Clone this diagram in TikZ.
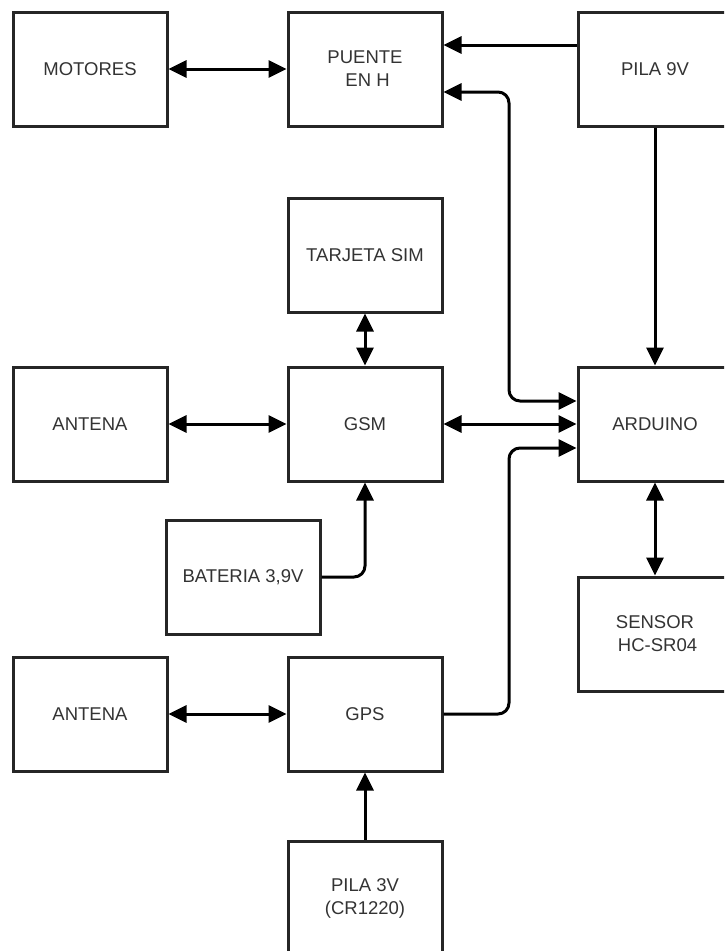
\documentclass[tikz,border=0pt]{standalone}
\usepackage{fontspec}
\setmainfont{Liberation Sans}
\usetikzlibrary{arrows.meta}
\begin{document}
\begin{tikzpicture}[x=1pt,y=-1pt,
  blk/.style={draw=black!85, line width=3pt, fill=white, minimum width=154pt, minimum height=114pt,
     inner sep=0pt, font=\fontsize{18.5}{23}\selectfont, text=black!80, align=center},
  conn/.style={line width=3pt, draw=black, rounded corners=11pt},
  tip/.tip={Triangle[length=18pt,width=17pt]},
  one/.style={conn, -tip},
  two/.style={conn, tip-tip}]
\clip (0,0) rectangle (724,951);
\fill[white] (0,0) rectangle (724,951);
\node[blk] (mot) at (90,69) {MOTORES};
\node[blk] (puente) at (365,69) {PUENTE\\ \ EN H};
\node[blk] (pila9) at (655,69) {PILA 9V};
\node[blk] (sim) at (365,255) {TARJETA SIM};
\node[blk] (ant1) at (90,424) {ANTENA};
\node[blk] (gsm) at (365,424) {GSM};
\node[blk] (ard) at (655,424) {ARDUINO};
\node[blk] (bat) at (243,577) {BATERIA 3,9V};
\node[blk] (sen) at (655,634) {SENSOR\\ \ HC-SR04};
\node[blk] (ant2) at (90,714) {ANTENA};
\node[blk] (gps) at (365,714) {GPS};
\node[blk] (pila3) at (365,898) {PILA 3V\\(CR1220)};
\coordinate (c1) at (509,92);
\coordinate (c2) at (509,401);
\coordinate (c3) at (509,714);
\coordinate (c4) at (509,448);
\coordinate (c5) at (365,577);
\draw[two] (mot.east) -- (puente.west);
\draw[one] ([yshift=24pt]pila9.west) -- ([yshift=24pt]puente.east);
\draw[two] ([yshift=-23pt]puente.east) -- (c1) -- (c2) -- ([yshift=23pt]ard.west);
\draw[two] (gsm.east) -- (ard.west);
\draw[one] (gps.east) -- (c3) -- (c4) -- ([yshift=-24pt]ard.west);
\draw[one] (pila9.south) -- (ard.north);
\draw[two] (ard.south) -- (sen.north);
\draw[two] (sim.south) -- (gsm.north);
\draw[two] (ant1.east) -- (gsm.west);
\draw[one] (bat.east) -- (c5) -- (gsm.south);
\draw[two] (ant2.east) -- (gps.west);
\draw[one] (pila3.north) -- (gps.south);
\end{tikzpicture}
\end{document}
